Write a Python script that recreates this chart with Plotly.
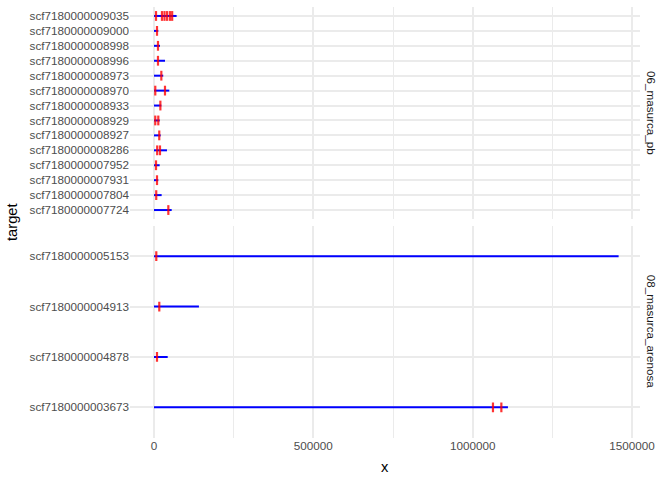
import plotly.graph_objects as go

# ---- data ----
pb_targets = ["scf7180000007724", "scf7180000007804", "scf7180000007931", "scf7180000007952",
              "scf7180000008286", "scf7180000008927", "scf7180000008929", "scf7180000008933",
              "scf7180000008970", "scf7180000008973", "scf7180000008996", "scf7180000008998",
              "scf7180000009000", "scf7180000009035"]
pb_lengths = [55500, 24000, 13500, 17800, 40700, 21000, 18000, 23000, 48000, 29000,
              34500, 18800, 13500, 71000]
pb_hit_target = ["scf7180000009035"] * 6 + ["scf7180000009000", "scf7180000008998", "scf7180000008996",
                 "scf7180000008973", "scf7180000008970", "scf7180000008970", "scf7180000008933",
                 "scf7180000008929", "scf7180000008929", "scf7180000008927", "scf7180000008286",
                 "scf7180000008286", "scf7180000007952", "scf7180000007931", "scf7180000007804",
                 "scf7180000007724"]
pb_hit_pos = [6300, 25000, 33000, 41000, 50000, 57000, 9400, 12500, 12500, 23000, 4000, 34500,
              20000, 4000, 13500, 16500, 10000, 18800, 6300, 9400, 7000, 45000]

ar_targets = ["scf7180000003673", "scf7180000004878", "scf7180000004913", "scf7180000005153"]
ar_lengths = [1110700, 43000, 141000, 1458000]
ar_hit_target = ["scf7180000005153", "scf7180000004913", "scf7180000004878",
                 "scf7180000003673", "scf7180000003673"]
ar_hit_pos = [7200, 16600, 9400, 1063700, 1090000]

facet_labels = ["06_masurca_pb", "08_masurca_arenosa"]
x_tickvals = [0, 500000, 1000000, 1500000]
x_ticktext = ["0", "500000", "1000000", "1500000"]

W, H = 672, 480
FONT = "Liberation Sans, Arial, sans-serif"
GRID = "#EBEBEB"

fig = go.Figure()


def seg_xy(targets, lengths):
    xs, ys = [], []
    for t, L in zip(targets, lengths):
        xs += [0, L, None]
        ys += [t, t, None]
    return xs, ys


panels = [
    (pb_targets, pb_lengths, pb_hit_target, pb_hit_pos, "x", "y"),
    (ar_targets, ar_lengths, ar_hit_target, ar_hit_pos, "x2", "y2"),
]
for targets, lengths, ht, hp, xa, ya in panels:
    xs, ys = seg_xy(targets, lengths)
    fig.add_trace(go.Scatter(x=xs, y=ys, mode="lines", line=dict(color="#0000FF", width=2),
                             xaxis=xa, yaxis=ya, showlegend=False, hoverinfo="skip"))
    fig.add_trace(go.Scatter(x=hp, y=ht, mode="markers",
                             marker=dict(symbol="line-ns", size=7,
                                         line=dict(color="rgba(255,0,0,0.8)", width=2.2)),
                             xaxis=xa, yaxis=ya, showlegend=False))

px = lambda p: p / W
py = lambda p: 1 - p / H

x_left, x_right = 130, 640
xrange = [-75314, 1525105]
top_dom = [py(219), py(7)]
bot_dom = [py(437.5), py(226)]

xcommon = dict(range=xrange, showline=False, zeroline=False, ticks="", automargin=False,
               tickvals=x_tickvals, ticktext=x_ticktext,
               showgrid=True, gridcolor=GRID, gridwidth=1.8,
               minor=dict(dtick=250000, tick0=0, showgrid=True, gridcolor=GRID, gridwidth=0.9),
               domain=[px(x_left), px(x_right)],
               tickfont=dict(family=FONT, size=11.7, color="#4D4D4D"))
ycommon = dict(type="category", showline=False, zeroline=False, ticks="", automargin=False,
               showgrid=True, gridcolor=GRID, gridwidth=1.8,
               tickfont=dict(family=FONT, size=11.7, color="#4D4D4D"))

fig.update_layout(
    width=W, height=H,
    margin=dict(l=0, r=0, t=0, b=0, autoexpand=False),
    plot_bgcolor="white", paper_bgcolor="white",
    xaxis=dict(**xcommon, anchor="y", showticklabels=False, matches="x2"),
    xaxis2=dict(**xcommon, anchor="y2", showticklabels=True),
    yaxis=dict(**ycommon, anchor="x", domain=top_dom, categoryorder="array",
               categoryarray=pb_targets, range=[-0.6, len(pb_targets) - 0.4]),
    yaxis2=dict(**ycommon, anchor="x2", domain=bot_dom, categoryorder="array",
                categoryarray=ar_targets, range=[-0.6, len(ar_targets) - 0.4]),
)

ann = dict(xref="paper", yref="paper", showarrow=False, xanchor="center", yanchor="middle")
annotations = [
    dict(ann, text="target", x=px(12), y=py(222), textangle=-90,
         font=dict(family=FONT, size=14.7, color="black")),
    dict(ann, text="x", x=px((x_left + x_right) / 2), y=py(467),
         font=dict(family=FONT, size=14.7, color="black")),
    dict(ann, text=facet_labels[0], x=px(651), y=(top_dom[0] + top_dom[1]) / 2, textangle=90,
         font=dict(family=FONT, size=11.7, color="#1A1A1A")),
    dict(ann, text=facet_labels[1], x=px(651), y=(bot_dom[0] + bot_dom[1]) / 2, textangle=90,
         font=dict(family=FONT, size=11.7, color="#1A1A1A")),
]
fig.update_layout(annotations=annotations)

fig.write_html("out.html", config={"displayModeBar": False},
               post_script="document.body.style.margin='0';")
